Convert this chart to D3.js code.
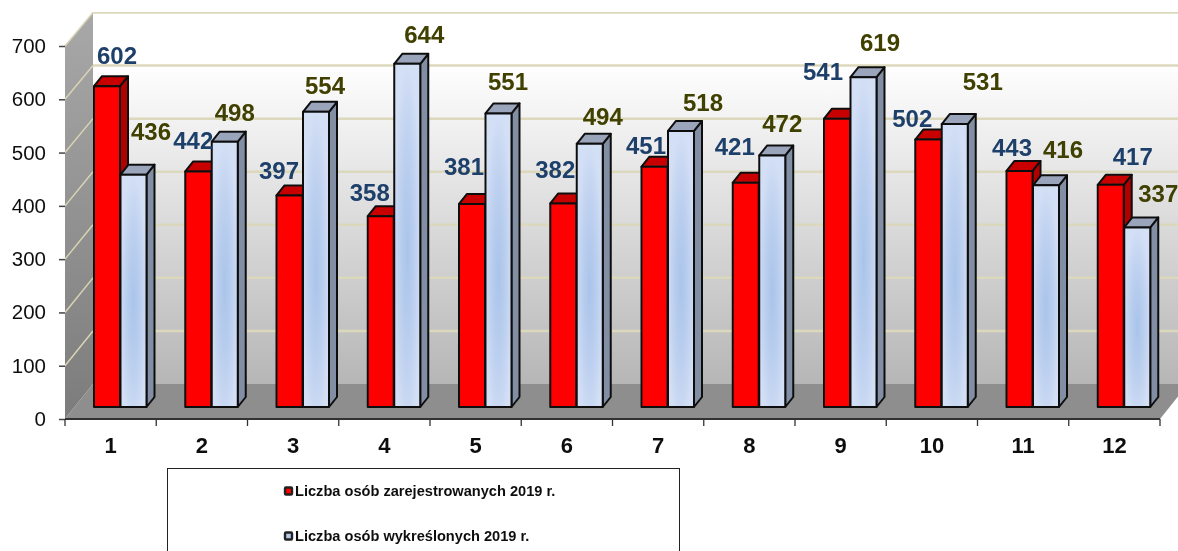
<!DOCTYPE html>
<html><head><meta charset="utf-8">
<script src="https://cdn.jsdelivr.net/npm/d3@7"></script>
<style>html,body{margin:0;padding:0;background:#fff;overflow:hidden}svg{display:block}</style>
</head><body><svg id="c" width="1178" height="551"></svg>
<script>
const categories=["1","2","3","4","5","6","7","8","9","10","11","12"];
const registered=[602,442,397,358,381,382,451,421,541,502,443,417];
const removed=[436,498,554,644,551,494,518,472,619,531,416,337];
const yTicks=[0,100,200,300,400,500,600,700];
const seriesNames=["Liczba osób zarejestrowanych 2019 r.","Liczba osób wykreślonych 2019 r."];
// manual data-label nudges, relative to each bar's top centre
const regDx=[10,-5,-10.5,-11,-8,-8,-8.5,-11,-14,-16,-7.5,22];
const regDy=[-31,-31,-25,-24,-38,-34,-21,-36,-47,-21,-24,-28];
const remDx=[17.5,10,9,17,9.5,13,22,10,16.5,28,17,21];
const remDy=[-43.5,-29,-26,-29,-32,-27,-29,-32,-35,-43,-36,-34];

const W=1178,H=551;
const svg=d3.select("#c");
const defs=svg.append("defs");
const left=65,right=1160,dX=28,dY=35;
const x=d3.scaleBand().domain(categories).range([left,right]);
const yFront=d3.scaleLinear().domain([0,700]).range([419,46]);
const yBack=d3.scaleLinear().domain([0,700]).range([384,12.5]);
const yBar=d3.scaleLinear().domain([0,700]).range([407,34]);
const barW=26,depthX=8,depthY=10,barStart=29;

function lin(id,stops){const g=defs.append("linearGradient").attr("id",id).attr("x1",0).attr("x2",0).attr("y1",0).attr("y2",1);
 stops.forEach(s=>g.append("stop").attr("offset",s[0]).attr("stop-color",s[1]));}
lin("wall",[[0,"#ffffff"],[0.14,"#ffffff"],[0.17,"#fcfcfc"],[1,"#b6b6b6"]]);
lin("lwall",[[0,"#a8a8a8"],[1,"#7c7c7c"]]);
const rg=defs.append("radialGradient").attr("id","blue").attr("cx",0.5).attr("cy",0.55).attr("r",0.55);
[[0,"#a9c4ea"],[0.55,"#bdd0ef"],[1,"#d3dff5"]].forEach(s=>rg.append("stop").attr("offset",s[0]).attr("stop-color",s[1]));
const hg=defs.append("filter").attr("id","soft").attr("x",0).attr("y",0).attr("width",1).attr("height",1);
hg.append("feGaussianBlur").attr("stdDeviation",0.5);

const g=svg.append("g").attr("filter","url(#soft)");
const poly=pts=>pts.map(p=>p.join(",")).join(" ");

// walls and floor
g.append("polygon").attr("points",poly([[left+dX,yBack(700)],[W+5,yBack(700)],[W+5,yBack(0)],[left+dX,yBack(0)]])).attr("fill","url(#wall)");
g.append("polygon").attr("points",poly([[left,yFront(700)],[left+dX,yBack(700)],[left+dX,yBack(0)],[left,yFront(0)]])).attr("fill","url(#lwall)");
g.append("polygon").attr("points",poly([[left,yFront(0)],[left+dX,yBack(0)],[right+dX,yBack(0)],[right,yFront(0)]])).attr("fill","#8e8e8e");
// gridlines
g.selectAll(".gb").data(yTicks.filter(d=>d>0)).join("line").attr("x1",left+dX).attr("x2",W+5)
 .attr("y1",d=>yBack(d)).attr("y2",d=>yBack(d)).attr("stroke","#dcd8bc").attr("stroke-width",2.5);
g.selectAll(".gl").data(yTicks.filter(d=>d>0)).join("line").attr("x1",left).attr("x2",left+dX)
 .attr("y1",d=>yFront(d)).attr("y2",d=>yBack(d)).attr("stroke","#d8d4b4").attr("stroke-width",1.5);

// axes
const ay=g.append("g").attr("transform",`translate(${left},0)`).call(d3.axisLeft(yFront).tickValues(yTicks).tickSize(6).tickPadding(13));
ay.select(".domain").remove();
ay.selectAll(".tick line").attr("stroke","#444").attr("stroke-width",1.5);
ay.selectAll("text").attr("font-family","'Liberation Sans',Arial,sans-serif").attr("font-size",20.5).attr("fill","#111");
const ax=g.append("g").attr("transform",`translate(0,${yFront(0)})`).call(d3.axisBottom(x).tickSize(0).tickPadding(18));
ax.select(".domain").remove();
ax.selectAll("text").attr("font-family","'Liberation Sans',Arial,sans-serif").attr("font-size",22).attr("font-weight","bold").attr("fill","#111");
g.append("line").attr("x1",left).attr("x2",right).attr("y1",yFront(0)).attr("y2",yFront(0)).attr("stroke","#333").attr("stroke-width",2);
g.selectAll(".ct").data(d3.range(13)).join("line")
 .attr("x1",i=>left+i*x.step()).attr("x2",i=>left+i*x.step()).attr("y1",yFront(0)).attr("y2",yFront(0)+7)
 .attr("stroke","#333").attr("stroke-width",1.3);

// bars
function bar3d(values,shift,front,top,side){
 const s=g.append("g").attr("stroke","#111").attr("stroke-width",2).attr("stroke-linejoin","round");
 categories.forEach((c,i)=>{
  const x0=x(c)+barStart+shift,x1=x0+barW,y0=yBar(values[i]),yb=yBar(0);
  s.append("polygon").attr("points",poly([[x1,y0],[x1+depthX,y0-depthY],[x1+depthX,yb-depthY],[x1,yb]])).attr("fill",side);
  s.append("polygon").attr("points",poly([[x0,y0],[x0+depthX,y0-depthY],[x1+depthX,y0-depthY],[x1,y0]])).attr("fill",top);
  s.append("rect").attr("x",x0).attr("y",y0).attr("width",barW).attr("height",yb-y0).attr("fill",front);
 });
}
bar3d(registered,0,"#ff0000","#c80000","#b00000");
bar3d(removed,barW+0.5,"url(#blue)","#9aa5bb","#828ea3");

// data labels
function labels(values,shift,dx,dy,color){
 g.append("g").selectAll("text").data(values).join("text")
  .attr("x",(d,i)=>x(categories[i])+barStart+shift+barW/2+dx[i])
  .attr("y",(d,i)=>yBar(d)+dy[i])
  .attr("dy","0.36em").attr("text-anchor","middle")
  .attr("font-family","'Liberation Sans',Arial,sans-serif").attr("font-weight","bold").attr("font-size",24)
  .attr("fill",color).text(d=>d);
}
labels(registered,0,regDx,regDy,"#1f3f6b");
labels(removed,barW+0.5,remDx,remDy,"#404000");

// legend
const lg=g.append("g");
lg.append("rect").attr("x",167.5).attr("y",468.5).attr("width",512).attr("height",100).attr("fill","#fff").attr("stroke","#222").attr("stroke-width",1);
const legendY=d3.scalePoint().domain(seriesNames).range([491,536]);
const legendFill=d3.scaleOrdinal().domain(seriesNames).range(["#ff0000","#b6c9ea"]);
seriesNames.forEach(n=>{
 lg.append("rect").attr("x",285).attr("y",legendY(n)-3.5).attr("width",7).attr("height",7).attr("rx",1)
  .attr("fill",legendFill(n)).attr("stroke","#222").attr("stroke-width",2.4);
 lg.append("text").attr("x",295).attr("y",legendY(n)).attr("dy","0.36em")
  .attr("font-family","'Liberation Sans',Arial,sans-serif").attr("font-weight","bold").attr("font-size",14.6).attr("fill","#111").text(n);
});
</script></body></html>
